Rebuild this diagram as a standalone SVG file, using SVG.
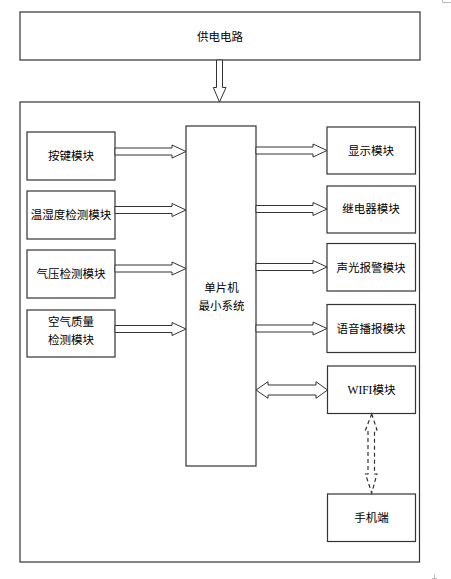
<svg xmlns="http://www.w3.org/2000/svg" width="451" height="579" viewBox="0 0 451 579">
<style>
.box{fill:#fff;stroke:#333;stroke-width:1.2}
.arr{fill:#fff;stroke:#333;stroke-width:1}
.dash{fill:none;stroke:#333;stroke-width:1.2;stroke-dasharray:4 3}
text{font-family:"Noto Sans CJK SC","Noto Sans",sans-serif;font-size:11.5px;fill:#000;text-anchor:middle}
.lat{font-family:"Liberation Serif",serif}
</style>
<rect width="451" height="579" fill="#fff"/>
<g id="power"><rect class="box" x="20" y="12" width="400" height="48"/><text x="220" y="41">供电电路</text></g>
<g id="main"><rect class="box" x="20" y="102" width="399.5" height="460"/></g>
<g id="key"><rect class="box" x="27" y="132" width="88" height="48"/><text x="71" y="160">按键模块</text></g>
<g id="temp"><rect class="box" x="27" y="191" width="88" height="48"/><text x="71" y="218.5">温湿度检测模块</text></g>
<g id="press"><rect class="box" x="27" y="250" width="88" height="48"/><text x="71" y="278">气压检测模块</text></g>
<g id="air"><rect class="box" x="27" y="310" width="88" height="47"/><text x="71" y="325.5">空气质量</text><text x="71" y="344">检测模块</text></g>
<g id="mcu"><rect class="box" x="186" y="126" width="70" height="340"/><text x="221.5" y="292">单片机</text><text x="221.5" y="310">最小系统</text></g>
<g id="disp"><rect class="box" x="327" y="127" width="88.5" height="47"/><text x="371" y="154.5">显示模块</text></g>
<g id="relay"><rect class="box" x="327" y="186" width="88.5" height="47"/><text x="371" y="213">继电器模块</text></g>
<g id="alarm"><rect class="box" x="327" y="243.5" width="88.5" height="47.5"/><text x="371" y="271.5">声光报警模块</text></g>
<g id="voice"><rect class="box" x="327" y="304.5" width="88.5" height="48"/><text x="371" y="332.5">语音播报模块</text></g>
<g id="wifi"><rect class="box" x="327.5" y="366" width="88" height="47.5"/><text x="371.5" y="393.5"><tspan class="lat">WIFI</tspan>模块</text></g>
<g id="phone"><rect class="box" x="327.5" y="494" width="88" height="47.5"/><text x="371.5" y="521.5">手机端</text></g>
<g id="connectors">
<polygon class="arr" points="216.5,60 222.5,60 222.5,87.5 226,87.5 219.5,102 213.3,87.5 216.5,87.5"/>
<polygon class="arr" points="115,148 172,148 172,145 186,151.5 172,158 172,155 115,155"/>
<polygon class="arr" points="115,206.5 172,206.5 172,203.5 186,210 172,216.5 172,213.5 115,213.5"/>
<polygon class="arr" points="115,265 172,265 172,262 186,268.5 172,275 172,272 115,272"/>
<polygon class="arr" points="115,325.5 172,325.5 172,322.5 186,329 172,335.5 172,332.5 115,332.5"/>
<polygon class="arr" points="256,147 313,147 313,144 327,150.5 313,157 313,154 256,154"/>
<polygon class="arr" points="256,205.5 313,205.5 313,202.5 327,209 313,215.5 313,212.5 256,212.5"/>
<polygon class="arr" points="256,263.5 313,263.5 313,260.5 327,267 313,273.5 313,270.5 256,270.5"/>
<polygon class="arr" points="256,325 313,325 313,322 327,328.5 313,335 313,332 256,332"/>
<polygon class="arr" points="256,390 268,381.7 268,385 316,385 316,381.7 327.5,390 316,398.3 316,395 268,395 268,398.3"/>
<polygon class="dash" points="371.7,414 377,430 374.5,430 374.5,474 377,474 371.7,493 365.5,474 368,474 368,430 365.5,430"/>
</g>
<g id="marks" stroke="#bbb" stroke-width="1" fill="none">
<path d="M442.5,0 V2.5 H451"/>
<path d="M434.5,574.5 V579 M432,578.5 H437"/>
</g>
</svg>
